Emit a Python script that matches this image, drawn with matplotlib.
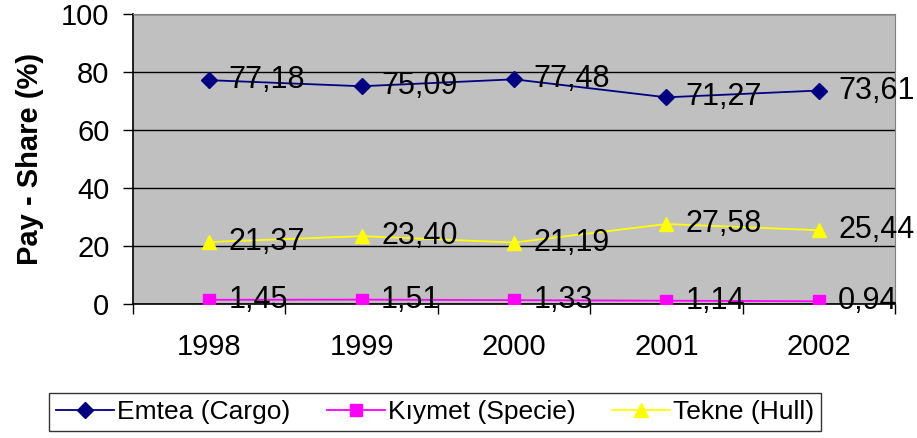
import matplotlib
matplotlib.use("Agg")
import matplotlib.pyplot as plt
import numpy as np

years = ["1998", "1999", "2000", "2001", "2002"]
emtea = [77.18, 75.09, 77.48, 71.27, 73.61]
kiymet = [1.45, 1.51, 1.33, 1.14, 0.94]
tekne = [21.37, 23.40, 21.19, 27.58, 25.44]
series_names = ["Emtea (Cargo)", "Kıymet (Specie)", "Tekne (Hull)"]
yticks = [0, 20, 40, 60, 80, 100]

plt.rcParams['font.family'] = ['Liberation Sans', 'DejaVu Sans']

fig = plt.figure(figsize=(9.17, 4.38), dpi=100)
ax = fig.add_axes([133/917, 1-304/438, (895-133)/917, (304-14)/438])
ax.set_facecolor('#C0C0C0')

x = np.arange(len(years))
styles = [
    (emtea, '#000080', 'D', 8),
    (kiymet, '#FF00FF', 's', 8),
    (tekne, '#FFFF00', '^', 10),
]
handles = []
for (vals, col, mk, ms), name in zip(styles, series_names):
    h, = ax.plot(x, vals, color=col, marker=mk, markersize=ms, linewidth=1.3,
                 markeredgecolor=col, label=name, zorder=3)
    handles.append(h)
    for xi, v in zip(x, vals):
        ax.annotate(f"{v:.2f}".replace('.', ','), (xi, v), xytext=(14, 0),
                    textcoords='offset points', va='center', ha='left',
                    fontsize=22, color='black', zorder=4, annotation_clip=False)

ax.set_xlim(-0.5, len(years) - 0.5)
ax.set_ylim(0, 100)
ax.set_yticks(yticks)
ax.set_yticklabels([str(t) for t in yticks], fontsize=21)
ax.yaxis.grid(True, color='black', linewidth=1)
ax.set_axisbelow(True)

ax.set_xticks(np.arange(-0.5, len(years), 1.0))
ax.set_xticklabels([])
ax.set_xticks(x, minor=True)
ax.set_xticklabels(years, minor=True, fontsize=21)
ax.tick_params(axis='x', which='major', direction='out', length=7, width=1, color='black')
ax.tick_params(axis='x', which='minor', length=0, pad=21)
ax.tick_params(axis='y', direction='out', length=7, width=1, pad=10)

for s in ['top', 'right']:
    ax.spines[s].set_color('#808080')
for s in ['left', 'bottom']:
    ax.spines[s].set_color('black')
    ax.spines[s].set_linewidth(1.2)

ax.set_ylabel("Pay - Share (%)", fontsize=21, fontweight='bold', labelpad=12)

leg = fig.legend(handles=handles, loc='center', ncol=3,
                 bbox_to_anchor=(435/917, 1-412/438), fontsize=19,
                 frameon=True, fancybox=False, edgecolor='black',
                 handlelength=2.2, columnspacing=1.4, handletextpad=0.1,
                 borderpad=0.25, borderaxespad=0)
leg.get_frame().set_linewidth(1)

fig.savefig("out.png", dpi=100)
